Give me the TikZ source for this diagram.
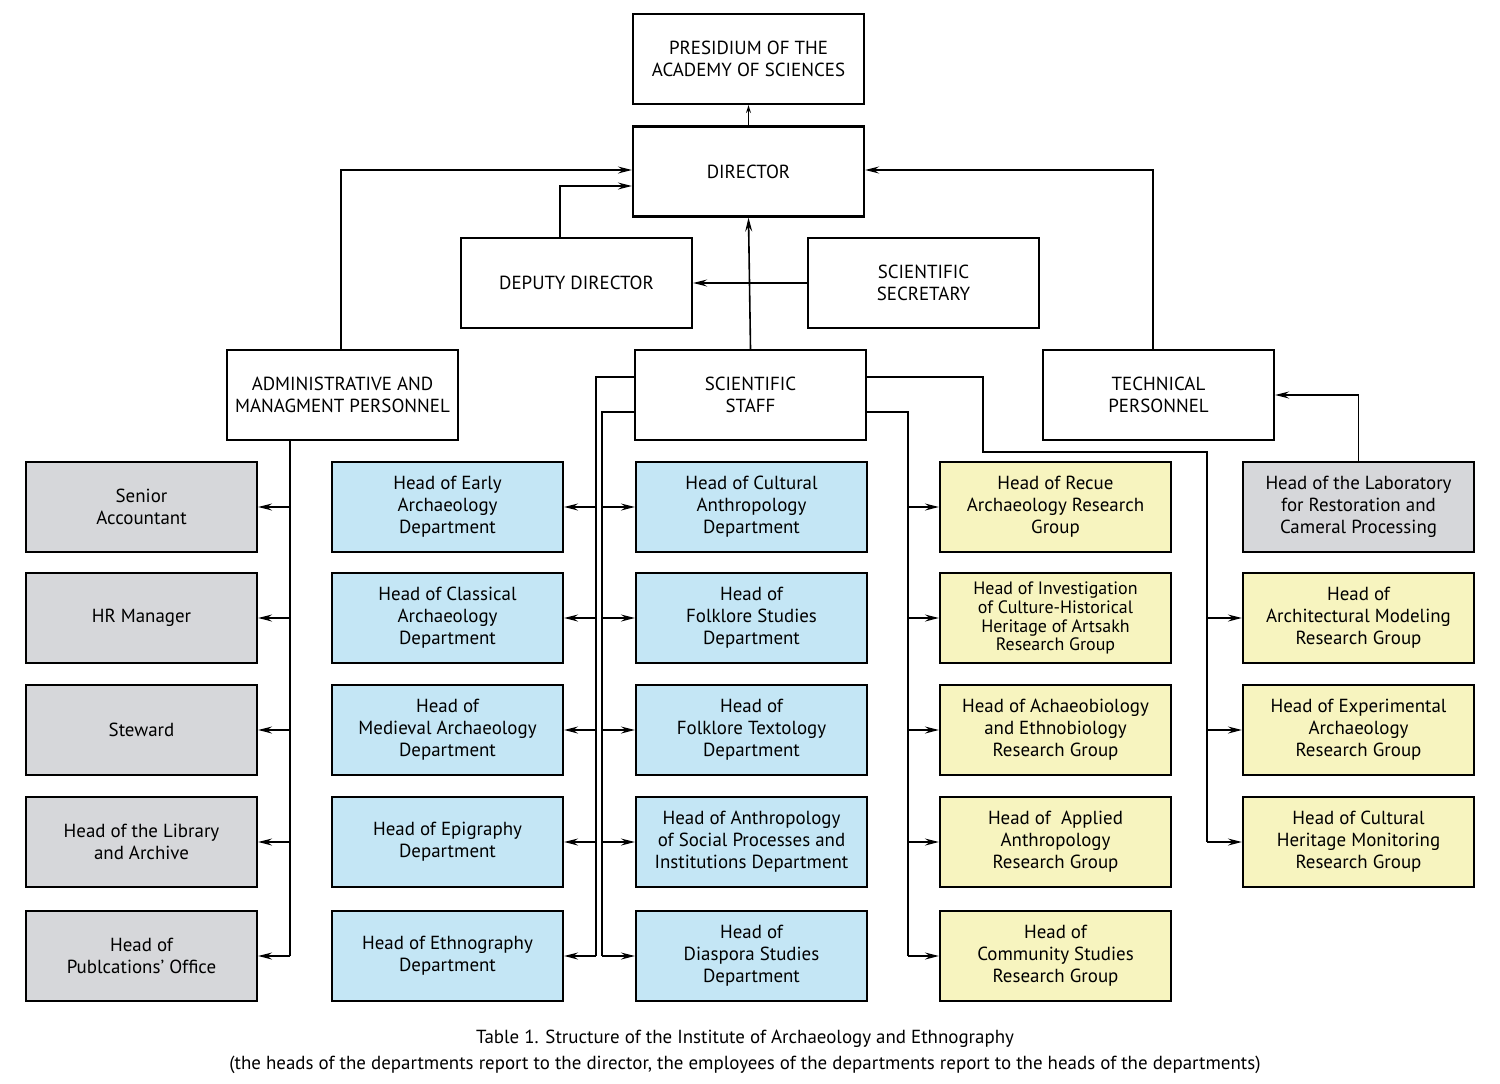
\documentclass[tikz,border=0pt]{standalone}
\usepackage{fontspec}
\setmainfont{PT Sans}
\usetikzlibrary{arrows.meta}
\definecolor{bl}{HTML}{C4E6F5}
\definecolor{gr}{HTML}{D6D7DA}
\definecolor{yl}{HTML}{F7F4BF}
\begin{document}
\begin{tikzpicture}[x=1bp,y=-1bp,
 box/.style={draw,line width=2.2bp,minimum width=231bp,minimum height=90bp,align=center,font=\fontsize{19}{22}\selectfont,inner sep=2bp},
 gbox/.style={box,fill=gr}, bbox/.style={box,fill=bl}, ybox/.style={box,fill=yl},
 ln/.style={line width=1.6bp},
 ar/.style={ln,-{Stealth[length=14bp,width=7bp,inset=5bp]}}]
\useasboundingbox (0,0) rectangle (1500,1083);
\node[box] (pres) at (748.5,59) {PRESIDIUM OF THE\\ACADEMY OF SCIENCES};
\node[box] (dir) at (748.5,171.5) {DIRECTOR};
\node[box] (dep) at (576.5,283) {DEPUTY DIRECTOR};
\node[box] (sec) at (923.5,283) {SCIENTIFIC\\SECRETARY};
\node[box] (adm) at (342.5,395) {ADMINISTRATIVE AND\\MANAGMENT PERSONNEL};
\node[box] (ss) at (750.5,395) {SCIENTIFIC\\STAFF};
\node[box] (tech) at (1158.5,395) {TECHNICAL\\PERSONNEL};
% column 1
\node[gbox] (a1) at (141.5,507) {Senior\\Accountant};
\node[gbox] (a2) at (141.5,618) {HR Manager};
\node[gbox] (a3) at (141.5,730) {Steward};
\node[gbox] (a4) at (141.5,842) {Head of the Library\\and Archive};
\node[gbox] (a5) at (141.5,956) {Head of\\Publcations' Office};
% column 2
\node[bbox] (b1) at (447.5,507) {Head of Early\\Archaeology\\Department};
\node[bbox] (b2) at (447.5,618) {Head of Classical\\Archaeology\\Department};
\node[bbox] (b3) at (447.5,730) {Head of\\Medieval Archaeology\\Department};
\node[bbox] (b4) at (447.5,842) {Head of Epigraphy\\Department};
\node[bbox] (b5) at (447.5,956) {Head of Ethnography\\Department};
% column 3
\node[bbox] (c1) at (751.5,507) {Head of Cultural\\Anthropology\\Department};
\node[bbox] (c2) at (751.5,618) {Head of\\Folklore Studies\\Department};
\node[bbox] (c3) at (751.5,730) {Head of\\Folklore Textology\\Department};
\node[bbox] (c4) at (751.5,842) {Head of Anthropology\\of Social Processes and\\Institutions Department};
\node[bbox] (c5) at (751.5,956) {Head of\\Diaspora Studies\\Department};
% column 4
\node[ybox] (d1) at (1055.5,507) {Head of Recue\\Archaeology Research\\Group};
\node[ybox,font=\fontsize{18}{19}\selectfont] (d2) at (1055.5,618) {Head of Investigation\\of Culture-Historical\\Heritage of Artsakh\\Research Group};
\node[ybox] (d3) at (1055.5,730) {Head of Achaeobiology\\and Ethnobiology\\Research Group};
\node[ybox] (d4) at (1055.5,842) {Head of\ \ Applied\\Anthropology\\Research Group};
\node[ybox] (d5) at (1055.5,956) {Head of\\Community Studies\\Research Group};
% column 5
\node[gbox] (e1) at (1358.5,507) {Head of the Laboratory\\for Restoration and\\Cameral Processing};
\node[ybox] (e2) at (1358.5,618) {Head of\\Architectural Modeling\\Research Group};
\node[ybox] (e3) at (1358.5,730) {Head of Experimental\\Archaeology\\Research Group};
\node[ybox] (e4) at (1358.5,842) {Head of Cultural\\Heritage Monitoring\\Research Group};
\node[font=\fontsize{19}{26}\selectfont,align=center] (cap) at (745,1052) {Table 1. Structure of the Institute of Archaeology and Ethnography\\(the heads of the departments report to the director, the employees of the departments report to the heads of the departments)};
% top connectors
\draw[ln,-{Stealth[length=8bp,width=5bp,inset=3bp]}] (dir.north) -- (pres.south);
\draw[ar] (ss.north) -- (dir.south);
\draw[ar] (sec.west) -- (dep.east);
\draw[ar] (dep.north -| 560,0) |- (dir.west |- 0,186);
\draw[ar] (adm.north -| 341,0) |- (dir.west |- 0,170);
\draw[ar] (tech.north -| 1153,0) |- (dir.east |- 0,170);
\draw[ar] (e1.north) |- (tech.east |- 0,395);
% admin column
\draw[ln] (adm.south -| 290,0) -- (290,956);
\foreach \n in {a1,a2,a3,a4,a5} \draw[ar] (290,0 |- \n.east) -- (\n.east);
% scientific staff left
\draw[ln] (ss.west |- 0,377) -- (596,377) -- (596,956);
\draw[ln] (ss.west |- 0,412) -- (602,412) -- (602,956);
\foreach \n in {b1,b2,b3,b4,b5} \draw[ar] (596,0 |- \n.east) -- (\n.east);
\foreach \n in {c1,c2,c3,c4,c5} \draw[ar] (602,0 |- \n.west) -- (\n.west);
% right
\draw[ln] (ss.east |- 0,412) -- (908,412) -- (908,956);
\foreach \n in {d1,d2,d3,d4,d5} \draw[ar] (908,0 |- \n.west) -- (\n.west);
\draw[ln] (ss.east |- 0,377) -- (983,377) -- (983,452) -- (1207,452) -- (1207,842);
\foreach \n in {e2,e3,e4} \draw[ar] (1207,0 |- \n.west) -- (\n.west);
\end{tikzpicture}
\end{document}
